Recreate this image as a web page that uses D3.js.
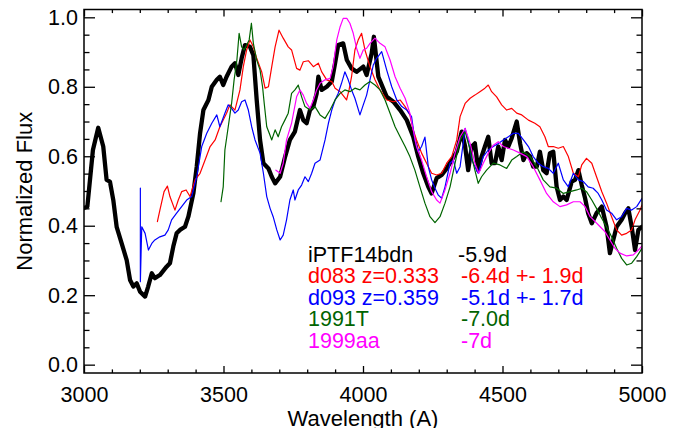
<!DOCTYPE html>
<html>
<head>
<meta charset="utf-8">
<script src="https://cdn.jsdelivr.net/npm/d3@7"></script>
<style>
  html, body { margin: 0; padding: 0; background: #fff; }
  svg text { font-family: "Liberation Sans", Arial, Helvetica, sans-serif; }
</style>
</head>
<body>
<svg id="chart" width="683" height="428"></svg>
<script>
// Spectra: [wavelength (A), normalized flux]
const iptf14bdn = [
  [3000,0.451],[3012,0.455],[3032,0.618],[3051,0.682],[3069,0.628],[3081,0.532],[3093,0.527],[3105,0.474],[3117,0.397],[3135,0.349],
  [3153,0.301],[3165,0.244],[3177,0.225],[3189,0.234],[3201,0.210],[3219,0.196],[3230,0.225],[3243,0.263],[3254,0.249],[3272,0.258],
  [3296,0.282],[3308,0.292],[3320,0.340],[3332,0.378],[3344,0.388],[3362,0.397],[3374,0.426],[3392,0.493],[3404,0.570],[3416,0.666],
  [3428,0.733],[3446,0.762],[3458,0.800],[3476,0.820],[3487,0.829],[3499,0.805],[3511,0.829],[3529,0.858],[3541,0.868],[3553,0.834],
  [3565,0.882],[3577,0.920],[3595,0.915],[3607,0.891],[3619,0.762],[3631,0.647],[3643,0.580],[3661,0.565],[3673,0.541],[3685,0.522],
  [3703,0.541],[3721,0.599],[3738,0.647],[3756,0.671],[3774,0.733],[3786,0.704],[3798,0.695],[3810,0.733],[3822,0.743],[3834,0.781],
  [3840,0.829],[3852,0.791],[3870,0.800],[3888,0.815],[3900,0.868],[3911,0.920],[3929,0.925],[3942,0.877],[3959,0.853],[3977,0.843],
  [4001,0.858],[4013,0.834],[4031,0.896],[4039,0.944],[4055,0.829],[4085,0.771],[4109,0.757],[4133,0.733],[4157,0.704],[4180,0.656],
  [4198,0.599],[4216,0.551],[4234,0.512],[4246,0.493],[4264,0.537],[4282,0.546],[4300,0.565],[4318,0.589],[4336,0.613],[4354,0.671],
  [4366,0.628],[4377,0.560],[4390,0.628],[4401,0.637],[4413,0.560],[4425,0.599],[4437,0.628],[4449,0.656],[4461,0.580],[4473,0.580],
  [4485,0.628],[4497,0.589],[4509,0.647],[4521,0.628],[4533,0.652],[4551,0.700],[4563,0.637],[4575,0.589],[4587,0.609],[4599,0.599],
  [4610,0.570],[4623,0.570],[4634,0.613],[4646,0.560],[4658,0.551],[4670,0.609],[4682,0.613],[4694,0.512],[4706,0.474],[4718,0.484],
  [4730,0.474],[4748,0.527],[4760,0.532],[4772,0.560],[4784,0.517],[4796,0.479],[4807,0.436],[4820,0.407],[4837,0.436],[4856,0.455],
  [4873,0.397],[4885,0.321],[4897,0.359],[4909,0.397],[4927,0.417],[4939,0.436],[4951,0.450],[4963,0.397],[4975,0.330],[4987,0.388],
  [5000,0.397]
];

const d083 = [
  [3263,0.412],[3272,0.445],[3287,0.498],[3299,0.514],[3308,0.484],[3326,0.445],[3338,0.474],[3350,0.498],[3366,0.503],[3380,0.484],
  [3398,0.532],[3416,0.551],[3434,0.589],[3452,0.628],[3470,0.647],[3487,0.685],[3511,0.724],[3523,0.748],[3541,0.733],[3559,0.791],
  [3571,0.858],[3583,0.906],[3595,0.935],[3607,0.915],[3619,0.882],[3637,0.843],[3649,0.796],[3661,0.800],[3673,0.858],[3685,0.915],
  [3699,0.963],[3714,0.940],[3732,0.915],[3744,0.906],[3762,0.853],[3774,0.848],[3786,0.872],[3804,0.875],[3822,0.858],[3840,0.868],
  [3852,0.843],[3870,0.820],[3888,0.815],[3900,0.796],[3918,0.786],[3941,0.762],[3950,0.791],[3959,0.829],[3971,0.906],[3983,0.935],
  [3995,0.954],[4007,0.906],[4025,0.858],[4043,0.820],[4061,0.791],[4085,0.762],[4109,0.757],[4133,0.762],[4151,0.743],[4168,0.719],
  [4180,0.676],[4192,0.647],[4210,0.609],[4228,0.580],[4246,0.551],[4264,0.546],[4282,0.551],[4300,0.580],[4318,0.599],[4336,0.647],
  [4348,0.714],[4366,0.752],[4384,0.767],[4401,0.776],[4419,0.786],[4437,0.796],[4449,0.805],[4461,0.786],[4479,0.771],[4497,0.748],
  [4515,0.733],[4533,0.738],[4551,0.724],[4569,0.719],[4593,0.704],[4616,0.695],[4634,0.685],[4652,0.656],[4664,0.628],[4682,0.628],
  [4700,0.623],[4718,0.628],[4736,0.599],[4754,0.551],[4772,0.541],[4784,0.575],[4801,0.594],[4820,0.580],[4837,0.541],[4856,0.498],
  [4873,0.465],[4891,0.426],[4909,0.388],[4927,0.373],[4945,0.378],[4963,0.388],[4975,0.417],[4993,0.445],[5000,0.460]
];

const d093 = [
  [3202,0.508],[3202,0.239],[3207,0.397],[3219,0.378],[3231,0.330],[3243,0.349],[3254,0.359],[3272,0.368],[3290,0.373],[3302,0.388],
  [3314,0.417],[3332,0.436],[3350,0.455],[3368,0.474],[3386,0.484],[3404,0.541],[3422,0.628],[3440,0.666],[3458,0.695],[3476,0.719],
  [3487,0.685],[3505,0.724],[3517,0.748],[3529,0.738],[3541,0.724],[3553,0.733],[3565,0.757],[3577,0.762],[3589,0.733],[3601,0.685],
  [3613,0.647],[3631,0.609],[3643,0.551],[3655,0.484],[3667,0.450],[3678,0.426],[3691,0.388],[3703,0.359],[3714,0.373],[3726,0.417],
  [3738,0.474],[3750,0.503],[3756,0.474],[3768,0.503],[3780,0.517],[3792,0.541],[3804,0.527],[3816,0.551],[3828,0.580],[3846,0.589],
  [3864,0.647],[3876,0.695],[3888,0.733],[3900,0.762],[3911,0.781],[3923,0.810],[3935,0.843],[3947,0.820],[3959,0.791],[3971,0.767],
  [3989,0.719],[4001,0.748],[4013,0.776],[4025,0.820],[4037,0.863],[4049,0.882],[4067,0.901],[4085,0.848],[4103,0.800],[4121,0.762],
  [4139,0.743],[4157,0.733],[4174,0.714],[4186,0.647],[4198,0.613],[4210,0.628],[4222,0.655],[4234,0.570],[4246,0.532],[4258,0.508],
  [4270,0.488],[4282,0.479],[4294,0.512],[4312,0.580],[4324,0.589],[4336,0.551],[4348,0.570],[4366,0.680],[4377,0.647],[4390,0.589],
  [4401,0.570],[4413,0.551],[4431,0.599],[4449,0.618],[4467,0.628],[4485,0.637],[4503,0.647],[4521,0.656],[4539,0.666],[4557,0.666],
  [4575,0.647],[4593,0.628],[4610,0.599],[4628,0.580],[4646,0.570],[4664,0.565],[4682,0.551],[4700,0.580],[4718,0.532],[4736,0.512],
  [4754,0.551],[4772,0.532],[4790,0.527],[4807,0.512],[4825,0.508],[4843,0.493],[4856,0.474],[4873,0.445],[4891,0.436],[4909,0.417],
  [4927,0.426],[4945,0.450],[4963,0.445],[4981,0.455],[5000,0.479]
];

const sn1991T = [
  [3491,0.469],[3499,0.512],[3505,0.618],[3517,0.685],[3529,0.752],[3538,0.820],[3548,0.877],[3556,0.954],[3565,0.915],[3574,0.906],
  [3583,0.920],[3592,0.935],[3600,0.983],[3607,0.925],[3619,0.877],[3631,0.848],[3640,0.800],[3646,0.752],[3655,0.685],[3664,0.666],
  [3673,0.647],[3685,0.676],[3696,0.656],[3708,0.685],[3720,0.704],[3732,0.724],[3744,0.781],[3756,0.791],[3768,0.805],[3780,0.771],
  [3792,0.743],[3810,0.733],[3828,0.743],[3846,0.719],[3864,0.709],[3882,0.733],[3900,0.762],[3918,0.781],[3935,0.791],[3953,0.786],
  [3971,0.796],[3989,0.791],[4007,0.805],[4025,0.815],[4043,0.805],[4061,0.791],[4079,0.762],[4097,0.724],[4115,0.685],[4133,0.656],
  [4151,0.628],[4168,0.599],[4186,0.560],[4204,0.512],[4222,0.465],[4240,0.426],[4258,0.409],[4276,0.426],[4294,0.465],[4312,0.512],
  [4330,0.580],[4348,0.647],[4366,0.671],[4384,0.618],[4401,0.560],[4413,0.522],[4425,0.541],[4443,0.560],[4467,0.580],[4491,0.575],
  [4515,0.565],[4533,0.589],[4551,0.599],[4575,0.613],[4599,0.599],[4623,0.570],[4646,0.532],[4670,0.512],[4694,0.508],[4718,0.493],
  [4742,0.498],[4766,0.503],[4784,0.508],[4801,0.498],[4820,0.474],[4837,0.450],[4856,0.421],[4873,0.397],[4891,0.368],[4909,0.335],
  [4927,0.306],[4945,0.287],[4963,0.292],[4981,0.311],[5000,0.335]
];

const sn1999aa = [
  [3688,0.560],[3703,0.551],[3714,0.580],[3726,0.647],[3744,0.695],[3762,0.771],[3774,0.791],[3786,0.776],[3798,0.752],[3810,0.738],
  [3822,0.762],[3834,0.791],[3846,0.810],[3864,0.820],[3882,0.824],[3893,0.858],[3906,0.935],[3918,0.973],[3929,0.997],[3942,0.997],
  [3953,0.983],[3965,0.954],[3977,0.911],[3989,0.882],[4001,0.906],[4013,0.911],[4025,0.925],[4043,0.940],[4061,0.925],[4079,0.915],
  [4097,0.877],[4115,0.829],[4133,0.796],[4151,0.767],[4168,0.724],[4180,0.676],[4192,0.628],[4210,0.589],[4228,0.541],[4246,0.498],
  [4264,0.474],[4276,0.465],[4294,0.503],[4312,0.551],[4330,0.609],[4348,0.656],[4366,0.680],[4384,0.637],[4401,0.580],[4415,0.551],
  [4431,0.580],[4449,0.609],[4467,0.632],[4485,0.642],[4503,0.628],[4521,0.623],[4539,0.618],[4563,0.609],[4587,0.599],[4610,0.570],
  [4634,0.532],[4658,0.493],[4682,0.469],[4706,0.455],[4730,0.460],[4754,0.469],[4778,0.469],[4796,0.455],[4814,0.426],[4832,0.412],
  [4850,0.397],[4867,0.383],[4885,0.359],[4903,0.335],[4921,0.321],[4945,0.313],[4969,0.316],[4987,0.330],[5000,0.342]
];

// Legend entries
const seriesNames  = ["iPTF14bdn", "d083 z=0.333", "d093 z=0.359", "1991T", "1999aa"];
const seriesEpochs = ["-5.9d", "-6.4d +- 1.9d", "-5.1d +- 1.7d", "-7.0d", "-7d"];
const seriesColors = ["#000000", "#ff0000", "#0000ff", "#006400", "#ff00ff"];

// Axis ticks
const xMajorTicks = [3000, 3500, 4000, 4500, 5000];
const xTickLabels = ["3000", "3500", "4000", "4500", "5000"];
const yMajorTicks = [0.0, 0.2, 0.4, 0.6, 0.8, 1.0];
const yTickLabels = ["0.0", "0.2", "0.4", "0.6", "0.8", "1.0"];

const svg = d3.select("#chart");
const plotLeft = 84, plotRight = 642, plotTop = 9.5, plotBottom = 373;

const x = d3.scaleLinear().domain([3000, 5000]).range([plotLeft, plotRight]);
const y = d3.scaleLinear().domain([-0.024, 1.0225]).range([plotBottom, plotTop]);

const xMinor = d3.range(3000, 5001, 100).filter(v => v % 500 !== 0);
const yMinor = d3.range(0, 21).map(i => i * 0.05).filter((v, i) => i % 4 !== 0);

const fontSize = 21.5;

// Spectra, thick black first, comparisons over it
const spectra = [
  {data: iptf14bdn, color: seriesColors[0], width: 4.3},
  {data: d083,      color: seriesColors[1], width: 1.2},
  {data: d093,      color: seriesColors[2], width: 1.2},
  {data: sn1991T,   color: seriesColors[3], width: 1.2},
  {data: sn1999aa,  color: seriesColors[4], width: 1.2}
];

const line = d3.line().x(d => x(d[0])).y(d => y(d[1]));

svg.append("defs").append("clipPath").attr("id", "plotclip")
  .append("rect").attr("x", plotLeft).attr("y", plotTop)
  .attr("width", plotRight - plotLeft).attr("height", plotBottom - plotTop);

svg.append("g").attr("clip-path", "url(#plotclip)")
  .selectAll("path").data(spectra).join("path")
  .attr("d", s => line(s.data))
  .attr("fill", "none")
  .attr("stroke", s => s.color)
  .attr("stroke-width", s => s.width)
  .attr("stroke-linejoin", "round")
  .attr("stroke-linecap", "round");

// Axes: ticks point inward on all four sides
function styleAxis(g) {
  g.select(".domain").remove();
  g.selectAll(".tick line").attr("stroke", "#000").attr("stroke-width", 1.3);
  g.selectAll(".tick text").attr("fill", "#000")
    .style("font-size", fontSize + "px")
    .style("font-family", '"Liberation Sans", Arial, sans-serif');
}

svg.append("g").attr("transform", `translate(0,${plotBottom})`)
  .call(d3.axisBottom(x).tickValues(xMajorTicks).tickSize(-7).tickPadding(13.7)
    .tickFormat((d, i) => xTickLabels[i]))
  .call(styleAxis);
svg.append("g").attr("transform", `translate(0,${plotBottom})`)
  .call(d3.axisBottom(x).tickValues(xMinor).tickSize(-3.6).tickFormat(""))
  .call(styleAxis);
svg.append("g").attr("transform", `translate(0,${plotTop})`)
  .call(d3.axisTop(x).tickValues(xMajorTicks).tickSize(-7).tickFormat(""))
  .call(styleAxis);
svg.append("g").attr("transform", `translate(0,${plotTop})`)
  .call(d3.axisTop(x).tickValues(xMinor).tickSize(-3.6).tickFormat(""))
  .call(styleAxis);

svg.append("g").attr("transform", `translate(${plotLeft},0)`)
  .call(d3.axisLeft(y).tickValues(yMajorTicks).tickSize(-11).tickPadding(6)
    .tickFormat((d, i) => yTickLabels[i]))
  .call(styleAxis);
svg.append("g").attr("transform", `translate(${plotLeft},0)`)
  .call(d3.axisLeft(y).tickValues(yMinor).tickSize(-5.5).tickFormat(""))
  .call(styleAxis);
svg.append("g").attr("transform", `translate(${plotRight},0)`)
  .call(d3.axisRight(y).tickValues(yMajorTicks).tickSize(-11).tickFormat(""))
  .call(styleAxis);
svg.append("g").attr("transform", `translate(${plotRight},0)`)
  .call(d3.axisRight(y).tickValues(yMinor).tickSize(-5.5).tickFormat(""))
  .call(styleAxis);

// Plot frame
svg.append("rect")
  .attr("x", plotLeft).attr("y", plotTop)
  .attr("width", plotRight - plotLeft).attr("height", plotBottom - plotTop)
  .attr("fill", "none").attr("stroke", "#000").attr("stroke-width", 1.5);

// Axis titles
svg.append("text")
  .attr("x", (plotLeft + plotRight) / 2).attr("y", 425.5)
  .attr("text-anchor", "middle")
  .style("font-size", "22px")
  .text("Wavelength (A)");

svg.append("text")
  .attr("transform", `translate(32,${(plotTop + plotBottom) / 2}) rotate(-90)`)
  .attr("text-anchor", "middle")
  .style("font-size", "22px")
  .text("Normalized Flux");

// Legend text
const legendBaselines = [261.7, 283.3, 304.5, 326, 347.5];
const legend = svg.append("g");
legend.selectAll("text.name").data(seriesNames).join("text")
  .attr("class", "name")
  .attr("x", 308).attr("y", (d, i) => legendBaselines[i])
  .attr("fill", (d, i) => seriesColors[i])
  .style("font-size", fontSize + "px")
  .text(d => d);
legend.selectAll("text.epoch").data(seriesEpochs).join("text")
  .attr("class", "epoch")
  .attr("x", (d, i) => i === 0 ? 458 : 461).attr("y", (d, i) => legendBaselines[i])
  .attr("fill", (d, i) => seriesColors[i])
  .style("font-size", fontSize + "px")
  .style("white-space", "pre")
  .text(d => d);
</script>
</body>
</html>
